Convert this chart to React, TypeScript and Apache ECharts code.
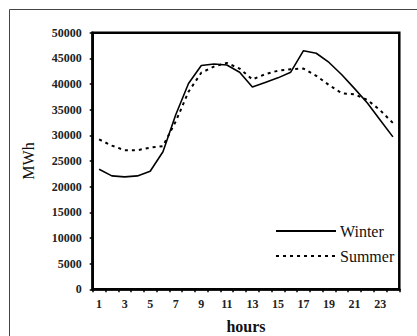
import React, { useEffect, useRef } from "react";
import * as echarts from "echarts";

const hours = Array.from({ length: 24 }, (_, i) => String(i + 1));
const winter = [23400, 22100, 21900, 22100, 23000, 26800, 34000, 40100, 43600, 43900, 43700, 42300, 39400, 40300, 41200, 42300, 46500, 46000, 44200, 41800, 39100, 36300, 33000, 29700];
const summer = [29200, 28000, 27100, 27100, 27600, 27900, 32700, 38500, 42200, 43400, 44100, 43000, 40900, 41900, 42600, 42900, 43000, 41600, 39800, 38200, 38000, 36900, 34900, 32400];

const serif = "'Liberation Serif', 'DejaVu Serif', serif";

export default function App() {
  const ref = useRef<HTMLDivElement>(null);
  useEffect(() => {
    if (!ref.current) return;
    const chart = echarts.init(ref.current, null, { renderer: "svg" });
    chart.setOption({
      animation: false,
      backgroundColor: "#fff",
      graphic: [
        {
          type: "rect",
          shape: { x: 9.5, y: 9.5, width: 420, height: 340 },
          style: { fill: "none", stroke: "#444", lineWidth: 1 },
          silent: true,
        },
      ],
      grid: {
        left: 92.7,
        top: 32.7,
        right: 17.7,
        bottom: 46.7,
        outerBoundsMode: "none",
        containLabel: false,
        show: true,
        borderColor: "#000",
        borderWidth: 2.5,
        backgroundColor: "transparent",
      },
      legend: {
        orient: "vertical",
        left: 275,
        top: 223,
        padding: 0,
        itemWidth: 60,
        itemHeight: 14,
        itemGap: 9,
        icon: "inherit",
        itemStyle: { opacity: 0 },
        lineStyle: { width: 2 },
        data: ["Winter", "Summer"],
        textStyle: { fontFamily: serif, fontSize: 16, color: "#111", padding: [0, 0, 0, -1] },
      },
      xAxis: {
        type: "category",
        data: hours,
        boundaryGap: true,
        name: "hours",
        nameLocation: "middle",
        nameGap: 29,
        nameTextStyle: { fontFamily: serif, fontSize: 16, fontWeight: "bold", color: "#111" },
        axisLine: { lineStyle: { color: "#000", width: 2.5 } },
        axisTick: { show: true, length: 3, lineStyle: { color: "#000", width: 1.5 }, interval: 0 },
        axisLabel: {
          interval: 1,
          margin: 9,
          fontFamily: serif,
          fontSize: 12,
          fontWeight: "bold",
          color: "#222",
        },
        splitLine: { show: false },
      },
      yAxis: {
        type: "value",
        min: 0,
        max: 50000,
        interval: 5000,
        name: "MWh",
        nameLocation: "middle",
        nameGap: 56,
        nameRotate: 90,
        nameTextStyle: { fontFamily: serif, fontSize: 16, color: "#111" },
        axisLine: { show: true, lineStyle: { color: "#000", width: 2.5 } },
        axisTick: { show: true, length: 3, lineStyle: { color: "#000", width: 1.5 } },
        axisLabel: {
          margin: 11,
          fontFamily: serif,
          fontSize: 12,
          fontWeight: "bold",
          color: "#222",
          formatter: (v: number) => String(v),
        },
        splitLine: { show: false },
      },
      series: [
        {
          name: "Winter",
          type: "line",
          data: winter,
          symbol: "none",
          lineStyle: { color: "#000", width: 1.6, type: "solid" },
          itemStyle: { color: "#000" },
        },
        {
          name: "Summer",
          type: "line",
          data: summer,
          symbol: "none",
          lineStyle: { color: "#000", width: 2, type: [3, 4] },
          itemStyle: { color: "#000" },
        },
      ],
    });
    return () => chart.dispose();
  }, []);
  return <div ref={ref} style={{ width: 417, height: 336, position: "absolute", left: 0, top: 0 }} />;
}
